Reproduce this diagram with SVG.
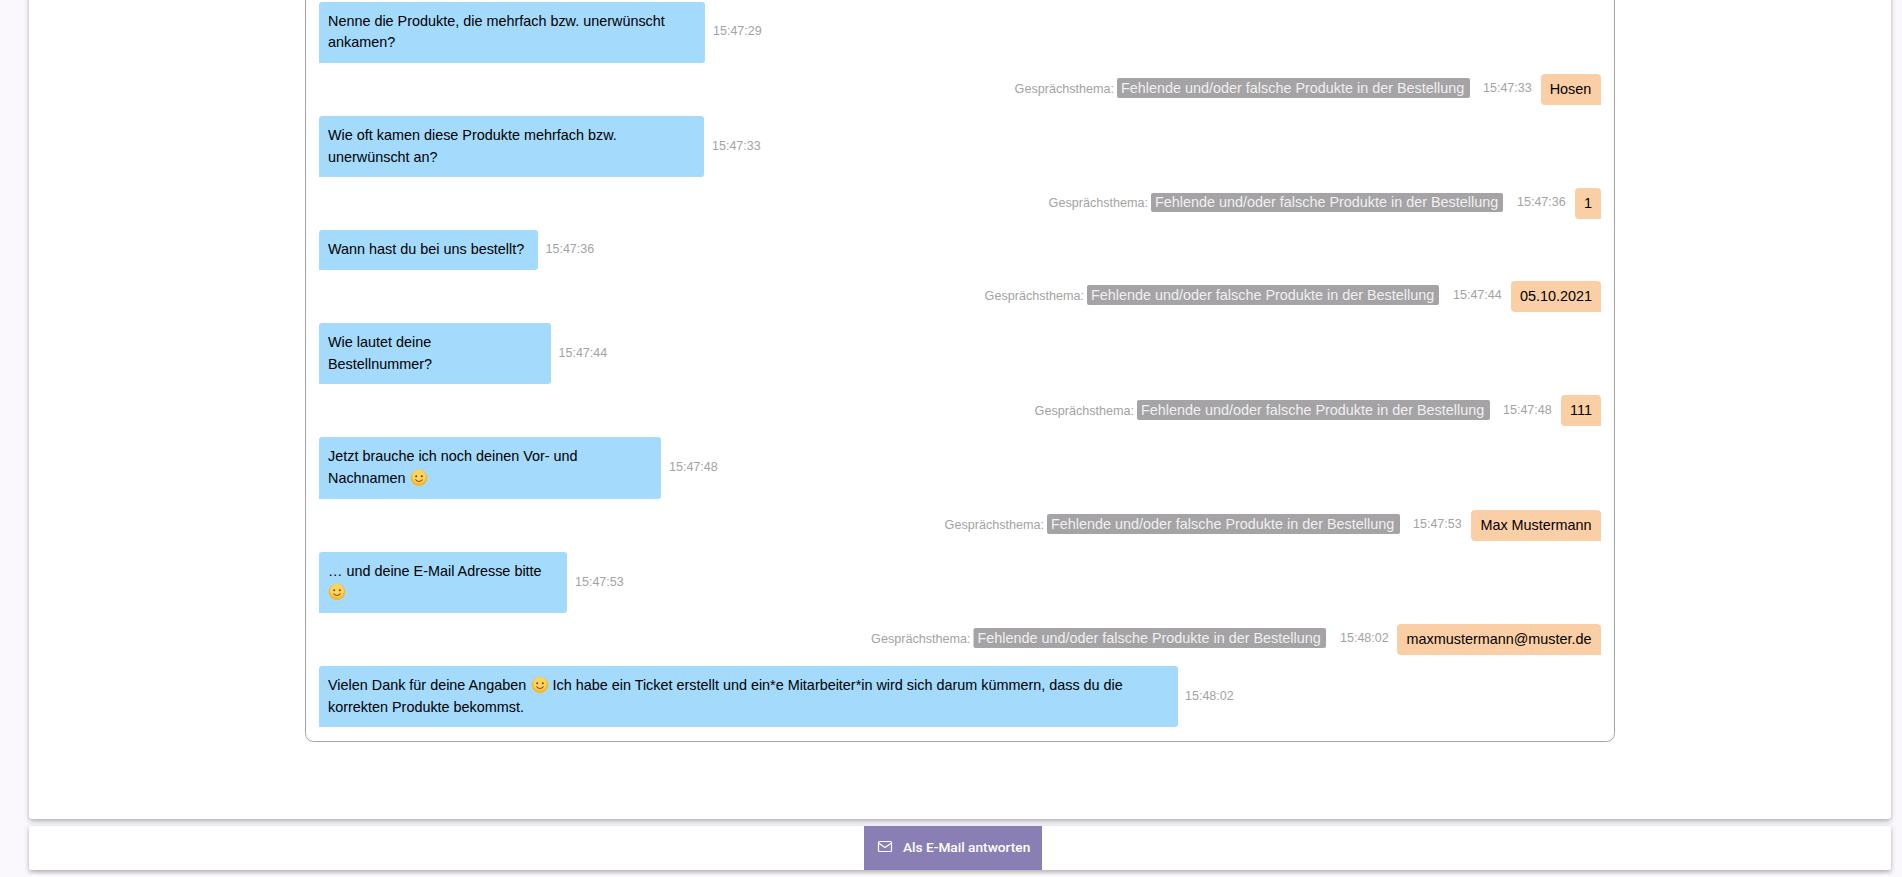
<svg xmlns="http://www.w3.org/2000/svg" width="1902" height="877" viewBox="0 0 1902 877">
<style>
text{font-family:"Liberation Sans",Arial,sans-serif}
.b{fill:#a4dafb}
.o{fill:#fbcfa6}
.c{fill:#a5a3a5}
.m{font-size:14.4px;fill:#000}
.t{font-size:12.5px;fill:#a3a3a3}
.g{font-size:12.6px;fill:#a3a3a3;text-anchor:end}
.w{font-size:14.4px;fill:#f0f0f0}
.r{font-size:14.4px;fill:#000;text-anchor:middle}
</style>
<defs>
<filter id="sh" x="-2%" y="-5%" width="104%" height="115%"><feDropShadow dx="0" dy="2" stdDeviation="2.5" flood-color="#000" flood-opacity=".32"/></filter>
<g id="smile">
<circle cx="0" cy="0" r="8.300" fill="#f9b731"/>
<circle cx="0" cy="-1.5" r="6.800" fill="#fcd45c"/>
<circle cx="-2.8" cy="-1.8" r="1" fill="#6b4a1a"/><circle cx="2.8" cy="-1.8" r="1" fill="#6b4a1a"/>
<path d="M-3.6 1.5Q0 5.5 3.6 1.5" fill="none" stroke="#7a4f1a" stroke-width="1.1"/>
</g>
</defs>
<rect width="1902" height="877" fill="#faf8fc"/>
<g id="card-main"><rect x="29" y="-20" width="1862" height="839" rx="4" fill="#fff" filter="url(#sh)"/></g>
<g id="card-footer"><rect x="29" y="826" width="1862" height="44" rx="3" fill="#fff" filter="url(#sh)"/></g>
<g id="panel"><rect x="305.500" y="-20" width="1309" height="761.500" rx="8" fill="#fff" stroke="#a3a3a3" stroke-width="1"/></g>

<g id="msg1"><path class="b" d="M319 5a3 3 0 0 1 3-3H702a3 3 0 0 1 3 3V60a3 3 0 0 1-3 3H319Z"/><text class="m" x="328" y="26">Nenne die Produkte, die mehrfach bzw. unerwünscht</text><text class="m" x="328" y="47">ankamen?</text><text class="t" x="713" y="35">15:47:29</text></g>
<g id="reply1"><text class="g" x="1114" y="93">Gesprächsthema:</text><rect class="c" x="1117" y="78" width="353" height="20" rx="2"/><text class="w" x="1121" y="93">Fehlende und/oder falsche Produkte in der Bestellung</text><text class="t" x="1483" y="92">15:47:33</text><path class="o" d="M1541 78a4 4 0 0 1 4-4H1597a4 4 0 0 1 4 4V105H1545a4 4 0 0 1-4-4Z"/><text class="r" x="1570.500" y="94">Hosen</text></g>

<g id="msg2"><path class="b" d="M319 119a3 3 0 0 1 3-3H701a3 3 0 0 1 3 3V174a3 3 0 0 1-3 3H319Z"/><text class="m" x="328" y="140">Wie oft kamen diese Produkte mehrfach bzw.</text><text class="m" x="328" y="162">unerwünscht an?</text><text class="t" x="712" y="150">15:47:33</text></g>
<g id="reply2"><text class="g" x="1148" y="207">Gesprächsthema:</text><rect class="c" x="1151" y="193" width="352" height="19" rx="2"/><text class="w" x="1155" y="207">Fehlende und/oder falsche Produkte in der Bestellung</text><text class="t" x="1517" y="206">15:47:36</text><path class="o" d="M1575 192a4 4 0 0 1 4-4H1597a4 4 0 0 1 4 4V219H1579a4 4 0 0 1-4-4Z"/><text class="r" x="1588" y="208">1</text></g>

<g id="msg3"><path class="b" d="M319 233a3 3 0 0 1 3-3H535a3 3 0 0 1 3 3V267a3 3 0 0 1-3 3H319Z"/><text class="m" x="328" y="254">Wann hast du bei uns bestellt?</text><text class="t" x="545.500" y="253">15:47:36</text></g>
<g id="reply3"><text class="g" x="1084" y="300">Gesprächsthema:</text><rect class="c" x="1087" y="285" width="352" height="20" rx="2"/><text class="w" x="1091" y="300">Fehlende und/oder falsche Produkte in der Bestellung</text><text class="t" x="1453" y="299">15:47:44</text><path class="o" d="M1511 285a4 4 0 0 1 4-4H1597a4 4 0 0 1 4 4V312H1515a4 4 0 0 1-4-4Z"/><text class="r" x="1556" y="301">05.10.2021</text></g>

<g id="msg4"><path class="b" d="M319 326a3 3 0 0 1 3-3H548a3 3 0 0 1 3 3V381a3 3 0 0 1-3 3H319Z"/><text class="m" x="328" y="347">Wie lautet deine</text><text class="m" x="328" y="369">Bestellnummer?</text><text class="t" x="558.500" y="357">15:47:44</text></g>
<g id="reply4"><text class="g" x="1134" y="415">Gesprächsthema:</text><rect class="c" x="1137" y="400" width="353" height="20" rx="2"/><text class="w" x="1141" y="415">Fehlende und/oder falsche Produkte in der Bestellung</text><text class="t" x="1503" y="414">15:47:48</text><path class="o" d="M1561 399a4 4 0 0 1 4-4H1597a4 4 0 0 1 4 4V426H1565a4 4 0 0 1-4-4Z"/><text class="r" x="1581" y="415">111</text></g>

<g id="msg5"><path class="b" d="M319 440a3 3 0 0 1 3-3H658a3 3 0 0 1 3 3V496a3 3 0 0 1-3 3H319Z"/><text class="m" x="328" y="461">Jetzt brauche ich noch deinen Vor- und</text><text class="m" x="328" y="483">Nachnamen</text><use href="#smile" x="419" y="478"/><text class="t" x="669" y="471">15:47:48</text></g>
<g id="reply5"><text class="g" x="1044" y="529">Gesprächsthema:</text><rect class="c" x="1047" y="514" width="353" height="20" rx="2"/><text class="w" x="1051" y="529">Fehlende und/oder falsche Produkte in der Bestellung</text><text class="t" x="1413" y="528">15:47:53</text><path class="o" d="M1471 514a4 4 0 0 1 4-4H1597a4 4 0 0 1 4 4V541H1475a4 4 0 0 1-4-4Z"/><text class="r" x="1536" y="530">Max Mustermann</text></g>

<g id="msg6"><path class="b" d="M319 555a3 3 0 0 1 3-3H564a3 3 0 0 1 3 3V610a3 3 0 0 1-3 3H319Z"/><text class="m" x="328" y="576">… und deine E-Mail Adresse bitte</text><use href="#smile" x="337" y="592"/><text class="t" x="575" y="586">15:47:53</text></g>
<g id="reply6"><text class="g" x="970.500" y="643">Gesprächsthema:</text><rect class="c" x="973.500" y="628" width="352.500" height="20" rx="2"/><text class="w" x="977.500" y="643">Fehlende und/oder falsche Produkte in der Bestellung</text><text class="t" x="1340" y="642">15:48:02</text><path class="o" d="M1397 628a4 4 0 0 1 4-4H1597a4 4 0 0 1 4 4V655H1401a4 4 0 0 1-4-4Z"/><text class="r" x="1499" y="644">maxmustermann@muster.de</text></g>

<g id="msg7"><path class="b" d="M319 669a3 3 0 0 1 3-3H1175a3 3 0 0 1 3 3V724a3 3 0 0 1-3 3H319Z"/><text class="m" x="328" y="690">Vielen Dank für deine Angaben</text><use href="#smile" x="540" y="685"/><text class="m" x="552.500" y="690">Ich habe ein Ticket erstellt und ein*e Mitarbeiter*in wird sich darum kümmern, dass du die</text><text class="m" x="328" y="712">korrekten Produkte bekommst.</text><text class="t" x="1185" y="700">15:48:02</text></g>

<g id="button"><rect x="864" y="826" width="178" height="44" fill="#8a7fb5"/><g fill="none" stroke="#fff" stroke-width="1.200"><rect x="878.500" y="841.500" width="13" height="10" rx="1"/><path d="M878.500 843l6.500 4.500 6.500-4.500"/></g><text x="903" y="852" style="font-family:Roboto,sans-serif;font-size:13.700px;font-weight:500;fill:#fff">Als E-Mail antworten</text></g>
</svg>
